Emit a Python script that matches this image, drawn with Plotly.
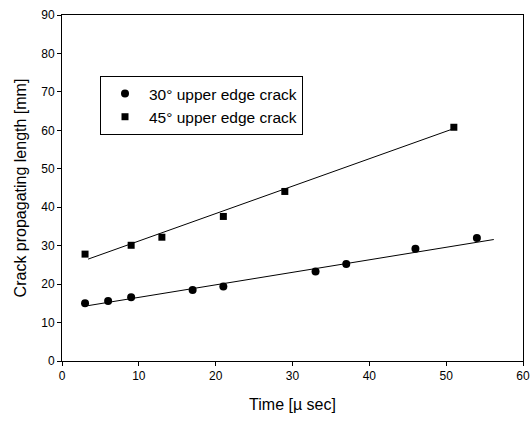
import plotly.graph_objects as go

# 30° upper edge crack
t30 = [3, 6, 9, 17, 21, 33, 37, 46, 54]
L30 = [15.0, 15.6, 16.6, 18.5, 19.4, 23.3, 25.2, 29.2, 32.0]
# 45° upper edge crack
t45 = [3, 9, 13, 21, 29, 51]
L45 = [27.8, 30.1, 32.2, 37.6, 44.1, 60.8]
# trend lines (endpoints)
fit30_t = [3.4, 56.2]
fit30_L = [14.4, 31.6]
fit45_t = [3.4, 51.2]
fit45_L = [26.5, 60.6]

fig = go.Figure()
fig.add_trace(go.Scatter(x=fit30_t, y=fit30_L, mode="lines",
                         line=dict(color="black", width=1), showlegend=False))
fig.add_trace(go.Scatter(x=fit45_t, y=fit45_L, mode="lines",
                         line=dict(color="black", width=1), showlegend=False))
fig.add_trace(go.Scatter(x=t30, y=L30, mode="markers", name="30° upper edge crack",
                         marker=dict(symbol="circle", size=8, color="black")))
fig.add_trace(go.Scatter(x=t45, y=L45, mode="markers", name="45° upper edge crack",
                         marker=dict(symbol="square", size=7, color="black")))

axis_common = dict(showline=True, linecolor="black", linewidth=1, mirror=True,
                   ticks="outside", ticklen=4, tickcolor="black", showgrid=False,
                   zeroline=False, automargin=False,
                   tickfont=dict(family="Arial", size=12, color="black"))

fig.update_layout(
    width=530, height=427,
    margin=dict(l=62, r=7, t=15, b=66),
    paper_bgcolor="white", plot_bgcolor="white",
    font=dict(family="Arial", color="black"),
    xaxis=dict(range=[0, 60], dtick=10, title=dict(text="Time [µ sec]", font=dict(size=16), standoff=16),
               **axis_common),
    yaxis=dict(range=[0, 90], dtick=10, title=dict(text="Crack propagating length [mm]", font=dict(size=16), standoff=10),
               **axis_common),
    legend=dict(x=(100 - 62) / 461, y=1 - (76 - 15) / 346, xanchor="left", yanchor="top",
                bgcolor="white", bordercolor="black", borderwidth=1,
                font=dict(family="Arial", size=15.5, color="black"), itemwidth=38,
                tracegroupgap=0),
)
fig.write_html("out.html", config={"displayModeBar": False},
               post_script="document.body.style.margin='0';document.body.style.overflow='hidden';")
